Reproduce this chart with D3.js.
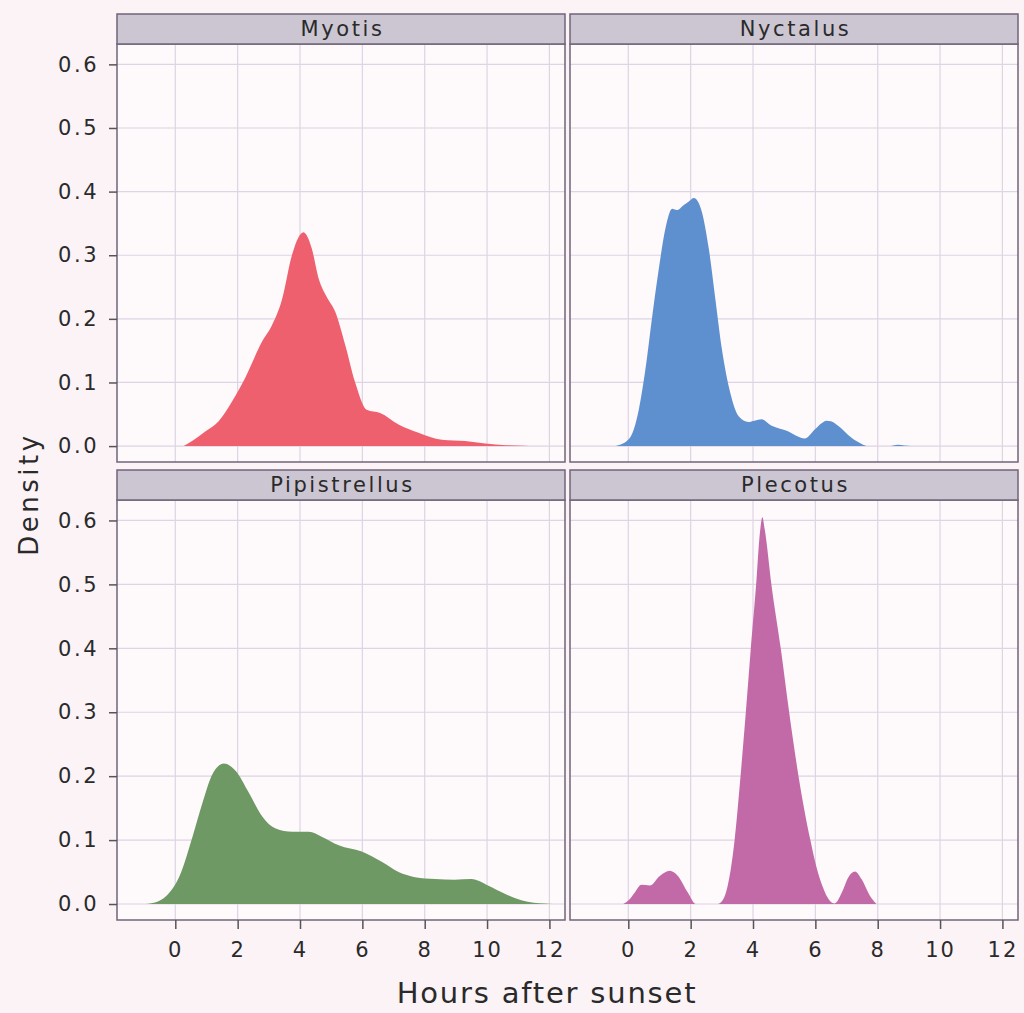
<!DOCTYPE html>
<html>
<head>
<meta charset="utf-8">
<script src="https://cdn.jsdelivr.net/npm/d3@7"></script>
<style>
  html, body { margin: 0; padding: 0; background: #fcf3f7; }
  svg { display: block; }
  text { font-family: "DejaVu Sans", Verdana, sans-serif; fill: #2a2a2a; }
</style>
</head>
<body>
<svg id="chart" width="1024" height="1013"></svg>
<script>
// species shown, one per facet (row-major)
var species = ["Myotis", "Nyctalus", "Pipistrellus", "Plecotus"];
var speciesColors = ["#ee606d", "#5e8fcf", "#6e9864", "#c26aa8"];

// density curves: [hours after sunset, density]
var myotis = [[0.27,0],[0.6,0.01],[0.96,0.023],[1.39,0.039],[1.82,0.07],[2.24,0.107],[2.78,0.164],
  [3.1,0.19],[3.42,0.23],[3.74,0.3],[3.95,0.328],[4.11,0.336],[4.25,0.328],[4.38,0.31],[4.6,0.263],
  [4.85,0.235],[5.13,0.211],[5.45,0.159],[5.77,0.1],[6.14,0.057],[6.57,0.052],[7.16,0.034],[7.8,0.021],
  [8.55,0.01],[9.3,0.008],[9.94,0.004],[10.6,0.0015],[11.2,0.0005],[11.5,0]];
var nyctalus = [[-0.4,0],[0.02,0.011],[0.34,0.058],[0.55,0.121],[0.77,0.205],[0.98,0.279],[1.19,0.342],
  [1.41,0.373],[1.56,0.371],[1.78,0.379],[1.95,0.385],[2.1,0.39],[2.25,0.383],[2.36,0.368],[2.58,0.311],
  [2.79,0.232],[3.0,0.153],[3.27,0.084],[3.54,0.047],[3.85,0.038],[4.05,0.04],[4.28,0.042],[4.6,0.032],
  [5.08,0.024],[5.66,0.012],[5.98,0.026],[6.2,0.036],[6.36,0.04],[6.5,0.039],[6.73,0.032],[7.16,0.013],
  [7.5,0.003],[7.69,0],[8.33,0],[8.5,0.001],[8.65,0.002],[8.85,0.001],[9.07,0]];
var pipistrellus = [[-0.94,0],[-0.6,0.003],[-0.3,0.012],[0.13,0.043],[0.55,0.105],[0.87,0.158],
  [1.19,0.203],[1.56,0.22],[1.94,0.208],[2.36,0.174],[2.79,0.137],[3.22,0.118],[3.75,0.113],[4.28,0.113],
  [4.71,0.105],[5.24,0.092],[5.98,0.082],[6.62,0.066],[7.16,0.05],[7.69,0.042],[8.33,0.039],[8.96,0.038],
  [9.5,0.039],[10.03,0.029],[10.57,0.016],[11.1,0.006],[11.5,0.002],[11.85,0.001],[12.1,0]];
var plecotus = [[-0.16,0],[0.05,0.008],[0.21,0.018],[0.42,0.03],[0.69,0.029],[1.01,0.044],[1.33,0.052],
  [1.59,0.044],[1.91,0.018],[2.17,0],[2.86,0],[3.05,0.008],[3.19,0.029],[3.41,0.1],[3.6,0.2],[3.77,0.3],
  [3.93,0.4],[4.1,0.5],[4.22,0.58],[4.3,0.605],[4.38,0.585],[4.59,0.5],[4.89,0.4],[5.16,0.3],[5.46,0.2],
  [5.84,0.1],[6.05,0.055],[6.22,0.029],[6.45,0.006],[6.62,0.001],[6.85,0.018],[7.06,0.042],[7.27,0.051],
  [7.48,0.039],[7.75,0.013],[7.96,0]];
var curves = [myotis, nyctalus, pipistrellus, plecotus];

var xTicks = [0, 2, 4, 6, 8, 10, 12];
var yTicks = [0, 0.1, 0.2, 0.3, 0.4, 0.5, 0.6];

var svg = d3.select("#chart");

var panelX = [117, 570];
var panelW = 448;
var stripTop = [14, 470];
var stripH = 30;
var plotH = [418, 420];

var x = d3.scaleLinear().domain([-1.87, 12.5]).range([0, panelW]);

species.forEach(function(name, i) {
  var col = i % 2, row = Math.floor(i / 2);
  var y = d3.scaleLinear().domain([-0.025, 0.632]).range([plotH[row], 0]);
  var g = svg.append("g")
    .attr("transform", "translate(" + panelX[col] + "," + (stripTop[row] + stripH) + ")");

  // panel background + grid
  g.append("rect").attr("width", panelW).attr("height", plotH[row]).attr("fill", "#fef9fb");
  g.selectAll(".vgrid").data(xTicks).enter().append("line")
    .attr("x1", function(d) { return x(d); }).attr("x2", function(d) { return x(d); })
    .attr("y1", 0).attr("y2", plotH[row])
    .attr("stroke", "#ddd4e4").attr("stroke-width", 1.2);
  g.selectAll(".hgrid").data(yTicks).enter().append("line")
    .attr("y1", function(d) { return y(d); }).attr("y2", function(d) { return y(d); })
    .attr("x1", 0).attr("x2", panelW)
    .attr("stroke", "#ddd4e4").attr("stroke-width", 1.2);

  // density area
  var area = d3.area()
    .x(function(d) { return x(d[0]); })
    .y0(y(0))
    .y1(function(d) { return y(d[1]); })
    .curve(d3.curveMonotoneX);
  g.append("path").datum(curves[i]).attr("d", area).attr("fill", speciesColors[i]);

  g.append("rect").attr("width", panelW).attr("height", plotH[row])
    .attr("fill", "none").attr("stroke", "#6f6679").attr("stroke-width", 1.5);

  // strip
  var strip = svg.append("g")
    .attr("transform", "translate(" + panelX[col] + "," + stripTop[row] + ")");
  strip.append("rect").attr("width", panelW).attr("height", stripH)
    .attr("fill", "#cbc6d2").attr("stroke", "#6f6679").attr("stroke-width", 1.5);
  strip.append("text")
    .attr("x", panelW / 2 + 1.5).attr("y", 22)
    .attr("text-anchor", "middle")
    .style("font-size", "21px").style("letter-spacing", "2.6px")
    .text(name);

  // y axis on left column
  if (col === 0) {
    var ya = g.append("g").call(d3.axisLeft(y).tickValues(yTicks).tickFormat(d3.format(".1f")).tickSize(8).tickPadding(10));
    ya.select(".domain").remove();
    ya.selectAll("line").attr("stroke", "#555").attr("stroke-width", 1.5);
    ya.selectAll("text").style("font-size", "21px").style("letter-spacing", "2.5px").attr("fill", "#2a2a2a");
  }
  // x axis on bottom row
  if (row === 1) {
    var xa = g.append("g").attr("transform", "translate(0," + plotH[row] + ")")
      .call(d3.axisBottom(x).tickValues(xTicks).tickFormat(d3.format("d")).tickSize(9).tickPadding(13));
    xa.select(".domain").remove();
    xa.selectAll("line").attr("stroke", "#555").attr("stroke-width", 1.5);
    xa.selectAll("text").style("font-size", "21px").style("letter-spacing", "2px").attr("fill", "#2a2a2a");
  }
});

// axis titles
svg.append("text")
  .attr("x", 547).attr("y", 1003)
  .attr("text-anchor", "middle")
  .style("font-size", "29px").style("letter-spacing", "1.8px")
  .text("Hours after sunset");

svg.append("text")
  .attr("transform", "translate(38,494) rotate(-90)")
  .attr("text-anchor", "middle")
  .style("font-size", "26px").style("letter-spacing", "3.5px")
  .text("Density");
</script>
</body>
</html>
